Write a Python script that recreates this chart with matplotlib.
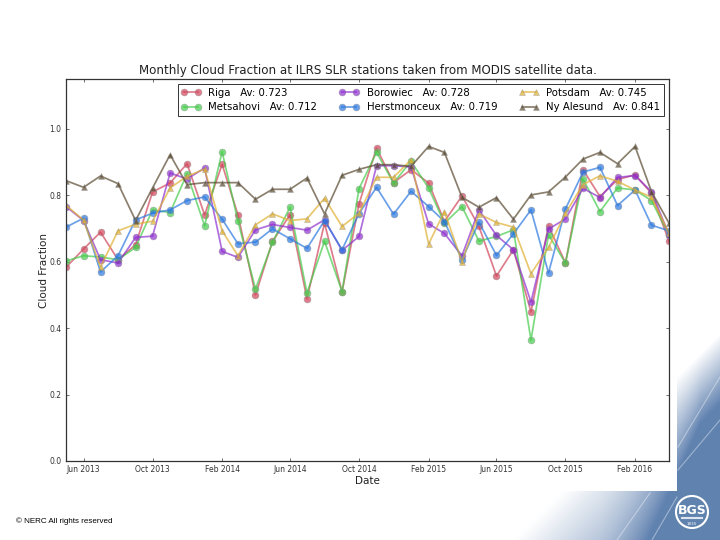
import datetime as dt
import matplotlib
matplotlib.use("Agg")
import matplotlib.pyplot as plt
import matplotlib.dates as mdates
import numpy as np

# monthly values, May 2013 to Apr 2016
years = [2013] * 8 + [2014] * 12 + [2015] * 12 + [2016] * 4
months = list(range(5, 13)) + list(range(1, 13)) + list(range(1, 13)) + list(range(1, 5))
dates = [dt.date(y, m, 1) for y, m in zip(years, months)]

riga = [0.583, 0.638, 0.689, 0.606, 0.651, 0.810, 0.837, 0.895, 0.741, 0.893, 0.741, 0.500,
        0.661, 0.741, 0.488, 0.716, 0.509, 0.774, 0.942, 0.838, 0.877, 0.837, 0.721, 0.798,
        0.706, 0.557, 0.636, 0.449, 0.708, 0.596, 0.877, 0.796, 0.847, 0.862, 0.806, 0.661]
metsahovi = [0.602, 0.618, 0.614, 0.606, 0.643, 0.756, 0.748, 0.865, 0.708, 0.931, 0.722, 0.518,
             0.658, 0.764, 0.506, 0.662, 0.510, 0.820, 0.929, 0.837, 0.902, 0.822, 0.716, 0.766,
             0.662, 0.676, 0.696, 0.364, 0.681, 0.596, 0.849, 0.751, 0.822, 0.816, 0.784, 0.681]
borowiec = [0.766, 0.724, 0.606, 0.596, 0.673, 0.677, 0.867, 0.849, 0.882, 0.631, 0.613, 0.696,
            0.712, 0.703, 0.695, 0.726, 0.634, 0.676, 0.889, 0.889, 0.885, 0.714, 0.685, 0.618,
            0.756, 0.679, 0.636, 0.479, 0.698, 0.729, 0.821, 0.793, 0.854, 0.859, 0.811, 0.681]
herstmonceux = [0.704, 0.731, 0.569, 0.618, 0.726, 0.746, 0.756, 0.784, 0.795, 0.728, 0.654, 0.659,
                0.699, 0.669, 0.640, 0.724, 0.636, 0.745, 0.824, 0.743, 0.812, 0.766, 0.721, 0.606,
                0.719, 0.619, 0.684, 0.756, 0.566, 0.759, 0.870, 0.884, 0.769, 0.816, 0.710, 0.693]
potsdam = [0.770, 0.725, 0.584, 0.693, 0.713, 0.722, 0.822, 0.857, 0.879, 0.693, 0.618, 0.711,
           0.744, 0.724, 0.729, 0.791, 0.706, 0.746, 0.854, 0.854, 0.907, 0.653, 0.751, 0.600,
           0.744, 0.718, 0.704, 0.564, 0.643, 0.746, 0.832, 0.859, 0.842, 0.816, 0.794, 0.686]
ny_alesund = [0.844, 0.824, 0.858, 0.835, 0.724, 0.822, 0.922, 0.832, 0.838, 0.838, 0.838, 0.788,
              0.818, 0.818, 0.852, 0.744, 0.860, 0.878, 0.892, 0.892, 0.887, 0.947, 0.929, 0.794,
              0.764, 0.793, 0.728, 0.801, 0.810, 0.855, 0.909, 0.929, 0.895, 0.947, 0.811, 0.716]

fig = plt.figure(figsize=(7.2, 5.4), dpi=100)

# slide background: blue gradient in the bottom right corner
bg = fig.add_axes([0, 0, 1, 1], zorder=0)
yy, xx = np.mgrid[0:540, 0:720]
w = np.clip(190 - (xx - 600) * 1.2, 70, 190)
t = np.clip((xx + yy - 1053) / w, 0, 1)
img = np.ones((540, 720, 3))
blue = np.array([0.38, 0.51, 0.69])
img = img * (1 - t[..., None]) + blue * t[..., None]
img[:491, :677] = 1
bg.imshow(img, extent=(0, 720, 540, 0), aspect="auto", interpolation="bilinear")
for x0, y0, x1, y1 in [(678, 447, 720, 377), (678, 470, 720, 420), (617, 540, 650, 493), (652, 540, 677, 497)]:
    bg.plot([x0, x1], [y0, y1], color="white", lw=0.8, alpha=0.4)
bg.set_xlim(0, 720)
bg.set_ylim(540, 0)
bg.axis("off")
bg.add_patch(plt.Circle((692, 512), 16, fc="#5f82ae", ec="white", lw=1.5))
bg.text(692, 510, "BGS", color="white", fontsize=9, fontweight="bold", ha="center", va="center")
bg.plot([682, 702], [518, 518], color="white", lw=1.5, alpha=0.8)
bg.text(692, 524, "1835", color="white", fontsize=3, ha="center", va="center")
bg.text(16, 521, "© NERC All rights reserved", color="black", fontsize=5.8, family="Liberation Sans", va="center")

ax = fig.add_axes([66 / 720, 1 - 461 / 540, (669 - 66) / 720, (461 - 79) / 540], zorder=1)

ax.plot(dates, riga, "-o", color="#d0455a", alpha=0.7, lw=1.25, ms=5, mec="#999999", mew=0.4, label="Riga   Av: 0.723")
ax.plot(dates, metsahovi, "-o", color="#44cc4a", alpha=0.7, lw=1.25, ms=5, mec="#999999", mew=0.4, label="Metsahovi   Av: 0.712")
ax.plot(dates, borowiec, "-o", color="#8e2fd0", alpha=0.7, lw=1.25, ms=5, mec="#999999", mew=0.4, label="Borowiec   Av: 0.728")
ax.plot(dates, herstmonceux, "-o", color="#2a78e0", alpha=0.7, lw=1.25, ms=5, mec="#999999", mew=0.4, label="Herstmonceux   Av: 0.719")
ax.plot(dates, potsdam, "-^", color="#e0b030", alpha=0.7, lw=1.25, ms=5, mec="#999999", mew=0.4, label="Potsdam   Av: 0.745")
ax.plot(dates, ny_alesund, "-^", color="#5a4a30", alpha=0.7, lw=1.25, ms=5, mec="#999999", mew=0.4, label="Ny Alesund   Av: 0.841")

ax.set_xlim(dt.date(2013, 5, 1), dt.date(2016, 4, 1))
ax.set_ylim(0, 1.15)
ax.set_yticks([0.0, 0.2, 0.4, 0.6, 0.8, 1.0])
ax.xaxis.set_major_locator(mdates.MonthLocator(bymonth=[2, 6, 10]))
ax.xaxis.set_major_formatter(mdates.DateFormatter("%b %Y"))
ax.tick_params(axis="both", direction="in", labelsize=5.5, length=2.5, width=0.5, top=True, right=True, colors="#333333")
ax.tick_params(axis="x", pad=3)
for s in ax.spines.values():
    s.set_linewidth(0.9)
    s.set_color("#333333")

ax.set_title("Monthly Cloud Fraction at ILRS SLR stations taken from MODIS satellite data.", fontsize=8.6, pad=3.5, color="#222222")
ax.set_xlabel("Date", fontsize=7.5, labelpad=1, color="#222222")
ax.set_ylabel("Cloud Fraction", fontsize=7.5, labelpad=0, color="#222222")

leg = ax.legend(ncol=3, fontsize=7.3, loc="upper right", bbox_to_anchor=(0.9915, 0.987), borderaxespad=0,
                fancybox=False, framealpha=1, edgecolor="#333333", numpoints=2, handlelength=2.0,
                handletextpad=0.7, columnspacing=2.15, labelspacing=0.45, borderpad=0.35)
leg.get_frame().set_linewidth(0.7)

plt.savefig("out.png", dpi=100)
